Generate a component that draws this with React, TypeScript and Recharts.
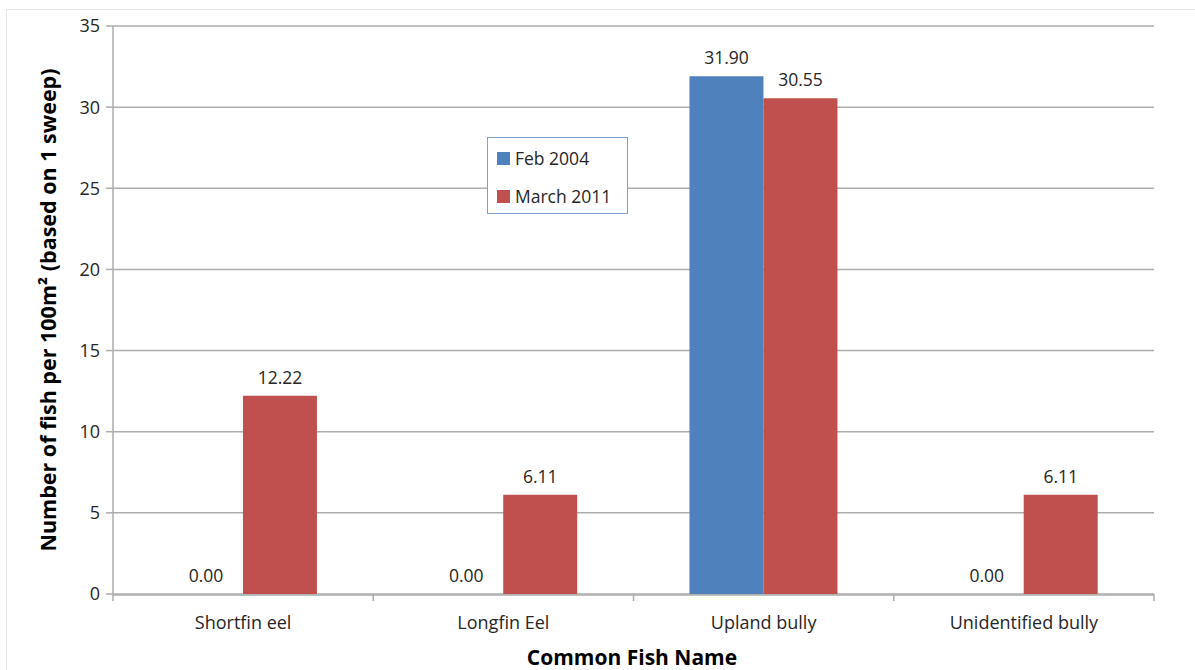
import React from "react";
import {
  BarChart,
  Bar,
  XAxis,
  YAxis,
  CartesianGrid,
  LabelList,
} from "recharts";

const FISH = ["Shortfin eel", "Longfin Eel", "Upland bully", "Unidentified bully"];
const FEB_2004 = [0, 0, 31.9, 0];
const MARCH_2011 = [12.22, 6.11, 30.55, 6.11];
const Y_TICKS = [0, 5, 10, 15, 20, 25, 30, 35];
const BOUNDARY_TICKS = [0, 1, 2, 3, 4];

const SERIES = [
  { key: "feb", name: "Feb 2004", color: "#4F81BD" },
  { key: "mar", name: "March 2011", color: "#C0504D" },
];

const data = FISH.map((name, i) => ({
  name,
  pos: i + 0.5,
  feb: FEB_2004[i],
  mar: MARCH_2011[i],
}));

const FONT = "'Open Sans', 'Liberation Sans', sans-serif";
const TEXT = "#262626";
const GRID = "#ADADAD";
const LABEL_SIZE = 17.5;

// zero-height bars get no label from recharts, so the Feb "0.00" labels
// are drawn next to the March bar, one bar width to the left
function ZeroFebLabel(props: any) {
  const { x, y, width, height, index } = props;
  if (FEB_2004[index] !== 0) return null;
  return (
    <text
      x={x - width / 2}
      y={y + height - 12}
      textAnchor="middle"
      fill={TEXT}
      fontSize={LABEL_SIZE}
      fontFamily={FONT}
    >
      {FEB_2004[index].toFixed(2)}
    </text>
  );
}

// boundary tick marks only, no text
function EdgeTick(props: any) {
  const { x, y } = props;
  return <line x1={x} x2={x} y1={y} y2={y + 7} stroke={GRID} strokeWidth={1.5} />;
}

export default function App() {
  return (
    <div
      style={{
        position: "absolute",
        left: 0,
        top: 0,
        width: 1195,
        height: 670,
        background: "#fff",
        overflow: "hidden",
      }}
    >
      <div
        style={{
          position: "absolute",
          left: 6,
          top: 9,
          width: 1200,
          height: 670,
          borderTop: "1px solid #E6E6E6",
          borderLeft: "1px solid #E6E6E6",
        }}
      />
      <BarChart
        width={1195}
        height={670}
        data={data}
        margin={{ top: 26, right: 41, bottom: 45, left: 53 }}
        barCategoryGap="21.5%"
        barGap={0}
        style={{ position: "absolute", left: 0, top: 0 }}
      >
        <CartesianGrid vertical={false} stroke={GRID} strokeWidth={1.5} xAxisId="b" />
        {/* axis "a" sits closest to the plot: boundary tick marks */}
        <XAxis
          xAxisId="a"
          type="number"
          dataKey="pos"
          domain={[0, 4]}
          ticks={BOUNDARY_TICKS}
          axisLine={false}
          tickLine={false}
          tickSize={0}
          tickMargin={0}
          tick={<EdgeTick />}
          height={1}
        />
        <XAxis
          dataKey="name"
          xAxisId="b"
          axisLine={{ stroke: GRID, strokeWidth: 1.5 }}
          tickLine={false}
          tick={{ fill: TEXT, fontSize: 18, fontFamily: FONT }}
          tickMargin={15}
          interval={0}
          height={30}
        />
        <YAxis
          domain={[0, 35]}
          ticks={Y_TICKS}
          width={60}
          axisLine={{ stroke: GRID, strokeWidth: 1.5 }}
          tickLine={{ stroke: GRID, strokeWidth: 1.5 }}
          tickSize={7}
          tickMargin={6}
          tick={{ fill: TEXT, fontSize: 18, fontFamily: FONT }}
        />
        {SERIES.map((s) => (
          <Bar
            key={s.key}
            dataKey={s.key}
            name={s.name}
            xAxisId="b"
            fill={s.color}
            isAnimationActive={false}
          >
            <LabelList
              dataKey={s.key}
              position="top"
              offset={12}
              formatter={(v: number) => v.toFixed(2)}
              style={{ fill: TEXT, fontSize: LABEL_SIZE, fontFamily: FONT }}
            />
            {s.key === "mar" && <LabelList dataKey="mar" content={<ZeroFebLabel />} />}
          </Bar>
        ))}
      </BarChart>

      <div
        style={{
          position: "absolute",
          left: 487,
          top: 137,
          width: 141,
          height: 77,
          border: "1px solid #7F9FD0",
          background: "#fff",
          boxSizing: "border-box",
          padding: "1px 0 0 9px",
          fontFamily: FONT,
          fontSize: 17.5,
          color: TEXT,
        }}
      >
        {SERIES.map((s) => (
          <div key={s.key} style={{ display: "flex", alignItems: "center", height: 38 }}>
            <div style={{ width: 13, height: 13, background: s.color, marginRight: 5 }} />
            <span>{s.name}</span>
          </div>
        ))}
      </div>

      <div
        style={{
          position: "absolute",
          left: 47,
          top: 310,
          transform: "translate(-50%, -50%) rotate(-90deg)",
          whiteSpace: "nowrap",
          fontFamily: FONT,
          fontWeight: 700,
          fontSize: 21.5,
          color: "#000",
        }}
      >
        Number of fish per 100m² (based on 1 sweep)
      </div>
      <div
        style={{
          position: "absolute",
          left: 632,
          top: 657,
          transform: "translate(-50%, -50%)",
          whiteSpace: "nowrap",
          fontFamily: FONT,
          fontWeight: 700,
          fontSize: 21,
          color: "#000",
        }}
      >
        Common Fish Name
      </div>
    </div>
  );
}
